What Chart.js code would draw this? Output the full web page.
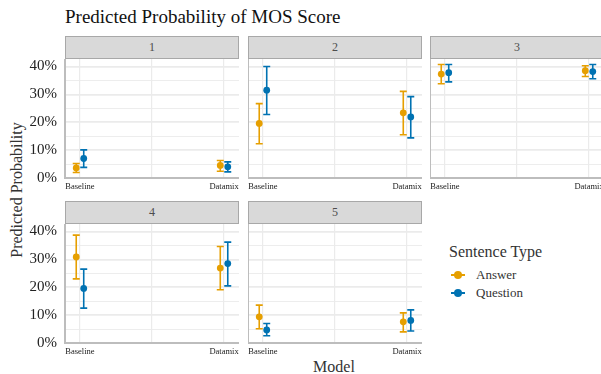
<!DOCTYPE html>
<html>
<head>
<meta charset="utf-8">
<script src="https://cdn.jsdelivr.net/npm/chart.js@4.4.1/dist/chart.umd.min.js"></script>
<style>
  body { margin: 0; width: 601px; height: 374px; overflow: hidden; background: #fff; position: relative; font-family: "Liberation Serif", serif; color: #222; }
  canvas { position: absolute; }
  .strip { position: absolute; width: 174px; height: 23px; box-sizing: border-box; background: #D9D9D9; border: 1px solid #A8A8A8; text-align: center; line-height: 21px; font-size: 12px; color: #4D4D4D; }
  #title { position: absolute; left: 65px; top: 6px; font-size: 19px; color: #111; white-space: nowrap; }
  #ylab { position: absolute; left: 17px; top: 190px; font-size: 16px; color: #333; white-space: nowrap; transform: translate(-50%, -50%) rotate(-90deg); }
  #xlab { position: absolute; left: 334px; top: 367px; font-size: 16px; color: #333; transform: translate(-50%, -50%); }
  #legend { position: absolute; left: 449px; top: 243px; color: #333; }
  #legend .ttl { font-size: 16px; margin-bottom: 5px; }
  #legend .item { position: relative; height: 18px; font-size: 13px; line-height: 18px; padding-left: 27px; }
  #legend .key { position: absolute; left: 2px; top: 8px; width: 14px; height: 2px; }
  #legend .dot { position: absolute; left: 5px; top: 5px; width: 8px; height: 8px; border-radius: 50%; }
</style>
</head>
<body>
<div id="title">Predicted Probability of MOS Score</div>
<div id="ylab">Predicted Probability</div>
<div id="xlab">Model</div>
<div id="legend"></div>

<script>
// Facets (MOS score), x categories and series
const scores = ['1', '2', '3', '4', '5'];
const models = ['Baseline', 'Datamix'];
const seriesNames = ['Answer', 'Question'];
const seriesColors = ['#E69F00', '#0072B2'];

// Predicted probability per score, [Baseline, Datamix]
const answerProb = [[0.036, 0.045], [0.196, 0.234], [0.373, 0.385], [0.309, 0.269], [0.094, 0.076]];
const answerLow  = [[0.020, 0.024], [0.123, 0.155], [0.338, 0.364], [0.230, 0.191], [0.051, 0.040]];
const answerHigh = [[0.052, 0.063], [0.267, 0.311], [0.407, 0.403], [0.387, 0.346], [0.136, 0.108]];

const questionProb = [[0.070, 0.040], [0.315, 0.219], [0.378, 0.382], [0.196, 0.285], [0.047, 0.081]];
const questionLow  = [[0.038, 0.022], [0.228, 0.144], [0.345, 0.356], [0.125, 0.205], [0.026, 0.043]];
const questionHigh = [[0.101, 0.058], [0.400, 0.292], [0.407, 0.407], [0.265, 0.362], [0.070, 0.119]];

// y ticks (major every 10%, minor every 5%)
const yTicks = [0, 0.05, 0.1, 0.15, 0.2, 0.25, 0.3, 0.35, 0.4];

// layout
const colX = [65, 248, 430];
const rowTop = [59, 224];
const PANEL_W = 174, PANEL_H = 119, XAXIS_H = 16, YAXIS_W = 65;
const DODGE = 0.052, XPAD = 0.104, CAP = 3.5;

const errorBars = {
  id: 'errorBars',
  beforeDatasetsDraw(chart) {
    const { ctx, scales: { x, y } } = chart;
    chart.data.datasets.forEach(ds => {
      ctx.save();
      ctx.strokeStyle = ds.backgroundColor;
      ctx.lineWidth = 1.6;
      ds.data.forEach(d => {
        const px = x.getPixelForValue(d.x);
        const top = y.getPixelForValue(d.hi);
        const bot = y.getPixelForValue(d.lo);
        ctx.beginPath();
        ctx.moveTo(px, top); ctx.lineTo(px, bot);
        ctx.moveTo(px - CAP, top); ctx.lineTo(px + CAP, top);
        ctx.moveTo(px - CAP, bot); ctx.lineTo(px + CAP, bot);
        ctx.stroke();
      });
      ctx.restore();
    });
  }
};

// drop the label overhang padding so every panel gets the same plot box
function noPad(s) {
  s.paddingTop = 0; s.paddingBottom = 0; s.paddingLeft = 0; s.paddingRight = 0;
}

function makeSeries(prob, low, high, p, s) {
  const shift = (s - 0.5) * DODGE;
  return {
    label: seriesNames[s],
    data: models.map((m, i) => ({ x: i + 1 + shift, y: prob[p][i], lo: low[p][i], hi: high[p][i] })),
    backgroundColor: seriesColors[s],
    borderWidth: 0,
    pointRadius: 3.4
  };
}

scores.forEach((score, p) => {
  const row = Math.floor(p / 3), col = p % 3;
  const left = colX[col], top = rowTop[row];

  const strip = document.createElement('div');
  strip.className = 'strip';
  strip.style.left = left + 'px';
  strip.style.top = (top - 23) + 'px';
  strip.textContent = score;
  document.body.appendChild(strip);

  const yw = col === 0 ? YAXIS_W : 0;
  const canvas = document.createElement('canvas');
  canvas.width = PANEL_W + yw;
  canvas.height = PANEL_H + XAXIS_H;
  canvas.style.left = (left - yw) + 'px';
  canvas.style.top = top + 'px';
  document.body.appendChild(canvas);

  new Chart(canvas.getContext('2d'), {
    type: 'scatter',
    data: {
      datasets: [
        makeSeries(answerProb, answerLow, answerHigh, p, 0),
        makeSeries(questionProb, questionLow, questionHigh, p, 1)
      ]
    },
    options: {
      responsive: false,
      animation: false,
      devicePixelRatio: 1,
      layout: { padding: 0, autoPadding: false },
      plugins: { legend: { display: false }, tooltip: { enabled: false } },
      scales: {
        x: {
          type: 'linear',
          min: 1 - XPAD,
          max: models.length + XPAD,
          afterBuildTicks: s => { s.ticks = [1, 1.5, 2].map(v => ({ value: v })); },
          afterFit: s => { s.height = XAXIS_H; noPad(s); },
          ticks: {
            callback: v => Number.isInteger(v) ? models[v - 1] : '',
            font: { family: 'Liberation Serif', size: 8.5 },
            color: '#222',
            padding: 4,
            maxRotation: 0,
            autoSkip: false
          },
          grid: { color: '#EBEBEB', lineWidth: 1.2, drawTicks: false },
          border: { display: true, color: '#BDBDBD', width: 2 }
        },
        y: {
          min: 0,
          max: 0.427,
          afterBuildTicks: s => { s.ticks = yTicks.map(v => ({ value: v })); },
          afterFit: s => { s.width = yw; noPad(s); },
          ticks: {
            display: col === 0,
            callback: v => Math.round(v * 100) % 10 === 0 ? Math.round(v * 100) + '%' : '',
            font: { family: 'Liberation Serif', size: 15 },
            color: '#222',
            padding: 8,
            autoSkip: false
          },
          grid: {
            color: '#EBEBEB',
            lineWidth: c => Math.round(c.tick.value * 100) % 10 === 0 ? 1.7 : 0.9,
            drawTicks: false
          },
          border: { display: true, color: '#BDBDBD', width: 2 }
        }
      }
    },
    plugins: [errorBars]
  });
});

// legend
const legend = document.getElementById('legend');
legend.innerHTML = '<div class="ttl">Sentence Type</div>' + seriesNames.map((n, i) =>
  `<div class="item"><span class="key" style="background:${seriesColors[i]}"></span><span class="dot" style="background:${seriesColors[i]}"></span>${n}</div>`
).join('');
</script>
</body>
</html>
